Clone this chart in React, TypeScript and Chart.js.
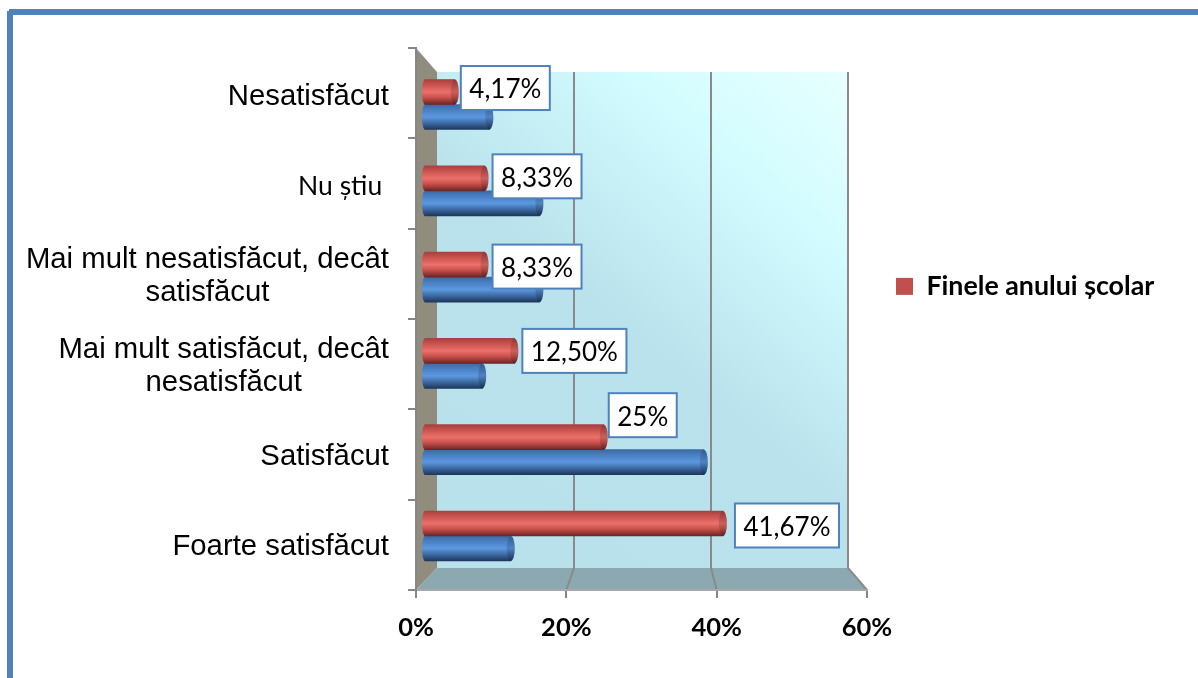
import React, { useEffect, useRef } from "react";
import { Chart, registerables } from "chart.js";

Chart.register(...registerables);

const categories: string[][] = [
  ["Nesatisfăcut"],
  ["Nu știu "],
  ["Mai mult nesatisfăcut, decât", "satisfăcut"],
  ["Mai mult satisfăcut, decât", "nesatisfăcut"],
  ["Satisfăcut"],
  ["Foarte satisfăcut"],
];
const redValues = [4.17, 8.33, 8.33, 12.5, 25, 41.67];
const blueValues = [9, 16, 16, 8, 39, 12];
const redLabels = ["4,17%", "8,33%", "8,33%", "12,50%", "25%", "41,67%"];
const legendLabel = "Finele anului școlar";
const hiddenSeriesLabel = "Începutul anului școlar";
const xTicks = [0, 20, 40, 60];

// layout constants
const W = 1198;
const H = 678;
const AREA = { left: 416, right: 867, top: 48, bottom: 590 };
const DEPTH = { left: 21, right: 19, top: 24, bottom: 22 };
const BAR_H = 25;
const CAP_R = 4;
const labelGapX = [2, 4, 4, 4, 1, 8];
const labelShiftY = [-4, -2, 2, 0, -22, 2];
const catShiftY = [4, 3, 3, 2, 2, 2];

const SANS = '"Liberation Sans", Arial, sans-serif';
const LATO = 'Lato, "Noto Sans", sans-serif';

const palette = [
  { stops: ["#A8403E", "#C9544F", "#EC706C", "#C9504C", "#6A2524"], flat: "#C0504D" },
  { stops: ["#3A6AA5", "#4A80C4", "#5C98E0", "#3F6EA8", "#1E375C"], flat: "#4F81BD" },
];
const STOP_POS = [0, 0.22, 0.5, 0.72, 1];

function barGradient(c: CanvasRenderingContext2D, top: number, idx: number) {
  const g = c.createLinearGradient(0, top, 0, top + BAR_H);
  palette[idx].stops.forEach((s, i) => g.addColorStop(STOP_POS[i], s));
  return g;
}

function barFill(ctx: any) {
  const ds = ctx.datasetIndex ?? 0;
  if (ctx.type !== "data") return palette[ds].flat;
  const y = ctx.chart.scales.yBar?.getPixelForValue(ctx.dataIndex);
  if (!Number.isFinite(y)) return palette[ds].flat;
  const top = y + (ds === 0 ? -BAR_H : 0);
  return barGradient(ctx.chart.ctx, top, ds);
}

const scenePlugin = {
  id: "scene",
  afterLayout(chart: any) {
    const lg = chart.legend;
    if (lg) {
      lg.left = 886;
      lg.right = 1190;
      lg.top = 263;
      lg.bottom = 310;
    }
  },
  beforeDraw(chart: any) {
    const c: CanvasRenderingContext2D = chart.ctx;
    const a = chart.chartArea;
    const x = chart.scales.x;
    const bl = a.left + DEPTH.left;
    const br = a.right - DEPTH.right;
    const bt = a.top + DEPTH.top;
    const bb = a.bottom - DEPTH.bottom;
    c.save();
    c.fillStyle = "#FFFFFF";
    c.fillRect(0, 0, W, H);
    // frame
    c.fillStyle = "#4F81BD";
    c.fillRect(9, 9, W - 9, 6);
    c.fillRect(7, 11, 6, H - 11);
    // back wall
    const g = c.createLinearGradient(bl, bb, br, bt);
    g.addColorStop(0, "#B8E1EB");
    g.addColorStop(0.48, "#B9E2EC");
    g.addColorStop(0.78, "#D2FCFF");
    g.addColorStop(1, "#E8FFFF");
    c.fillStyle = g;
    c.fillRect(bl, bt, br - bl, bb - bt);
    // side wall
    c.fillStyle = "#908D7E";
    c.beginPath();
    c.moveTo(a.left, a.top);
    c.lineTo(bl, bt);
    c.lineTo(bl, bb);
    c.lineTo(a.left, a.bottom);
    c.closePath();
    c.fill();
    // floor
    c.fillStyle = "#8CA8B0";
    c.beginPath();
    c.moveTo(bl, bb);
    c.lineTo(br, bb);
    c.lineTo(a.right, a.bottom);
    c.lineTo(a.left, a.bottom);
    c.closePath();
    c.fill();
    // grid
    c.strokeStyle = "#8A8A8A";
    c.lineWidth = 2;
    xTicks.slice(1).forEach((v) => {
      const bx = bl + ((br - bl) * v) / 60;
      c.beginPath();
      c.moveTo(bx, bt);
      c.lineTo(bx, bb);
      c.lineTo(x.getPixelForValue(v), a.bottom);
      c.stroke();
    });
    c.restore();
  },
  afterDatasetsDraw(chart: any) {
    const c: CanvasRenderingContext2D = chart.ctx;
    const xb = chart.scales.xBar;
    [1, 0].forEach((ds) => {
      chart.getDatasetMeta(ds).data.forEach((el: any) => {
        const top = el.y - BAR_H / 2;
        // left rounded end
        c.save();
        c.fillStyle = barGradient(c, top, ds);
        c.beginPath();
        c.ellipse(xb.getPixelForValue(0), el.y, 3, BAR_H / 2, 0, 0, Math.PI * 2);
        c.fill();
        // right cap
        c.fillStyle = barGradient(c, top, ds);
        c.beginPath();
        c.ellipse(el.x, el.y, CAP_R, BAR_H / 2, 0, 0, Math.PI * 2);
        c.fill();
        c.globalAlpha = 0.14;
        c.fillStyle = "#000000";
        c.fill();
        c.restore();
      });
    });
    // data labels
    c.save();
    chart.getDatasetMeta(0).data.forEach((el: any, i: number) => {
      const text = redLabels[i];
      c.font = `26px ${LATO}`;
      const w = c.measureText(text).width + 17;
      const h = 44;
      const bx = el.x + CAP_R + labelGapX[i];
      const by = el.y + labelShiftY[i] - h / 2;
      c.fillStyle = "#FFFFFF";
      c.fillRect(bx, by, w, h);
      c.strokeStyle = "#4F81BD";
      c.lineWidth = 2;
      c.strokeRect(bx, by, w, h);
      c.fillStyle = "#000000";
      c.textAlign = "center";
      c.textBaseline = "middle";
      c.fillText(text, bx + w / 2, by + h / 2 + 2);
    });
    c.restore();
    // category labels, block-centred and right-anchored
    const y = chart.scales.y;
    c.save();
    c.fillStyle = "#000000";
    c.textAlign = "center";
    c.textBaseline = "middle";
    categories.forEach((lines, i) => {
      const isSmall = lines[0].startsWith("Nu");
      c.font = isSmall ? `26.5px ${LATO}` : `29.3px ${SANS}`;
      const maxW = Math.max(...lines.map((l) => c.measureText(l).width));
      const cx = 389 - maxW / 2;
      const cy = y.getPixelForTick(i) + catShiftY[i];
      lines.forEach((l, k) => {
        c.fillText(l, cx, cy + (k - (lines.length - 1) / 2) * 33);
      });
    });
    c.restore();
  },
};

export default function App() {
  const ref = useRef<HTMLCanvasElement>(null);
  useEffect(() => {
    if (!ref.current) return;
    const chart = new Chart(ref.current, {
      type: "bar",
      data: {
        labels: categories.map((l) => l.join(" ")),
        datasets: [
          {
            label: legendLabel,
            data: redValues.map((v, i) => ({ x: v, y: i })),
            xAxisID: "xBar",
            yAxisID: "yBar",
            backgroundColor: barFill,
            barThickness: BAR_H,
          },
          {
            label: hiddenSeriesLabel,
            data: blueValues.map((v, i) => ({ x: v, y: i })),
            xAxisID: "xBar",
            yAxisID: "yBar",
            backgroundColor: barFill,
            barThickness: BAR_H,
          },
        ],
      } as any,
      options: {
        indexAxis: "y",
        animation: false,
        responsive: false,
        layout: { padding: { left: 0, right: W - AREA.right, top: AREA.top, bottom: 0 } },
        scales: {
          x: {
            type: "linear",
            position: "bottom",
            min: 0,
            max: 60,
            afterBuildTicks: (s: any) => {
              s.ticks = xTicks.map((value) => ({ value }));
            },
            afterFit: (s: any) => {
              s.height = H - AREA.bottom;
            },
            border: { color: "#A8A8A8", width: 2 },
            grid: { drawOnChartArea: false, color: "#868686", tickLength: 8, lineWidth: 2 },
            ticks: {
              autoSkip: false,
              maxRotation: 0,
              color: "#000000",
              padding: 14,
              font: { family: "Lato", weight: "bold", size: 25.5 },
              callback: (v: any) => `${v}%`,
            },
          },
          y: {
            type: "category",
            position: "left",
            afterFit: (s: any) => {
              s.width = AREA.left;
            },
            border: { color: "#868686", width: 2 },
            grid: { drawOnChartArea: false, color: "#868686", tickLength: 8, lineWidth: 2 },
            ticks: { display: false },
          },
          xBar: {
            type: "linear",
            position: "bottom",
            display: false,
            offset: false,
            min: -1.259,
            max: 61.82,
          },
          yBar: {
            type: "linear",
            position: "left",
            display: false,
            offset: false,
            reverse: true,
            min: -0.655,
            max: 5.626,
          },
        },
        plugins: {
          tooltip: { enabled: false },
          legend: {
            display: true,
            position: "chartArea",
            align: "start",
            labels: {
              filter: (item: any) => item.text === legendLabel,
              generateLabels: (chart: any) =>
                Chart.defaults.plugins.legend.labels
                  .generateLabels(chart)
                  .map((item: any) => ({ ...item, fillStyle: palette[item.datasetIndex].flat, lineWidth: 0 })),
              boxWidth: 17,
              boxHeight: 17,
              color: "#000000",
              padding: 10,
              font: { family: "Lato", weight: "bold", size: 26.8 },
            },
          },
        },
      } as any,
      plugins: [scenePlugin as any],
    });
    return () => chart.destroy();
  }, []);
  return (
    <div style={{ position: "absolute", left: 0, top: 0, width: W, height: H }}>
      <canvas ref={ref} width={W} height={H} style={{ display: "block" }} />
    </div>
  );
}
